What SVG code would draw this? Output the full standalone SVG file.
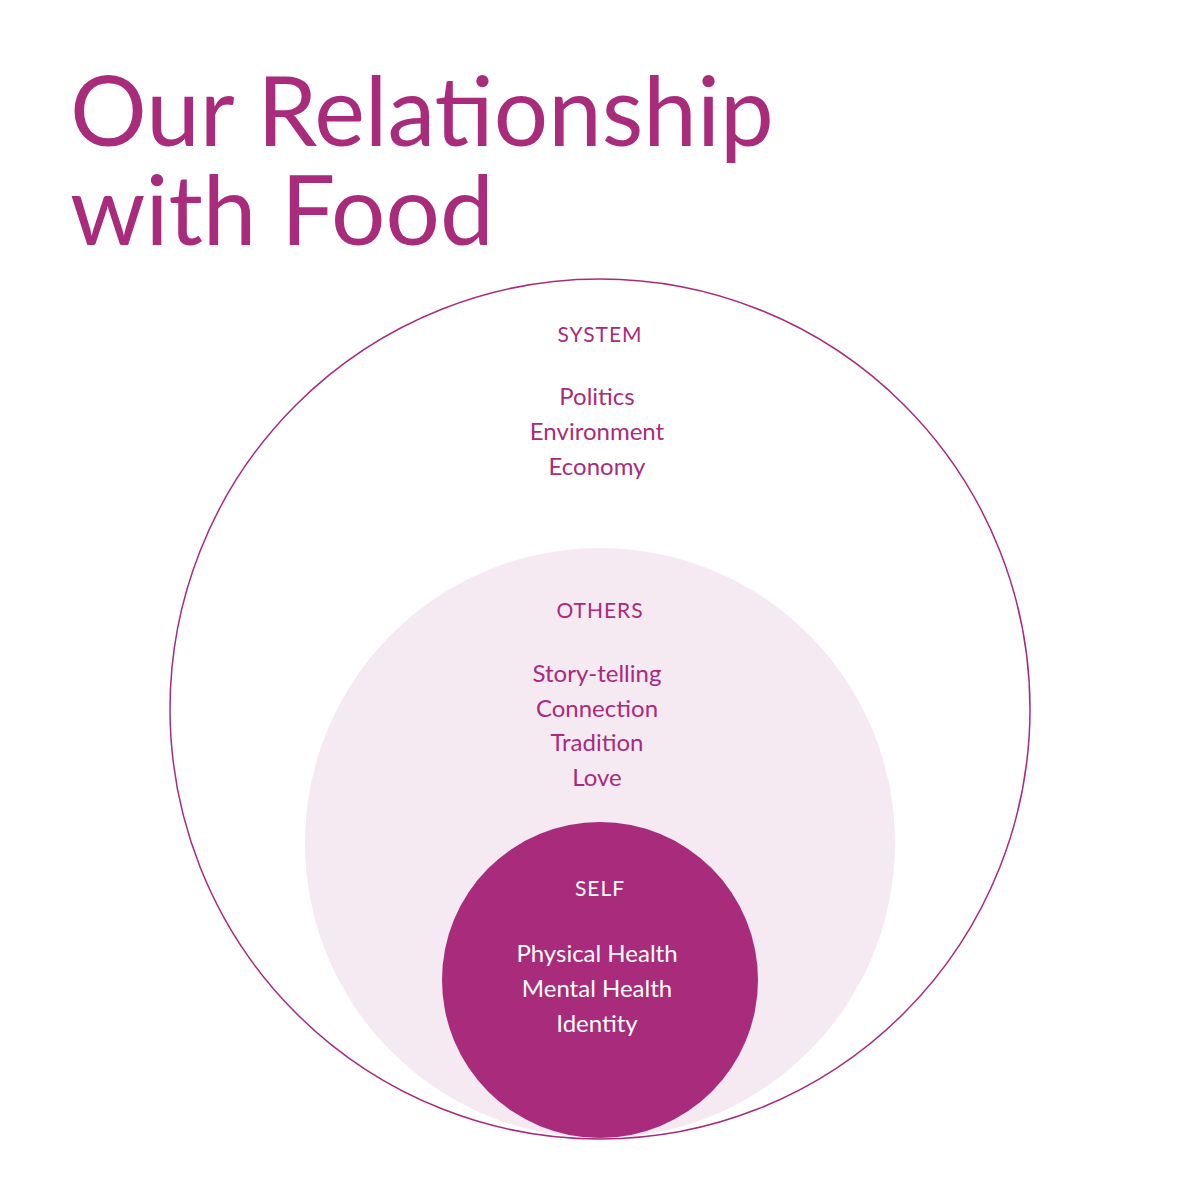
<svg xmlns="http://www.w3.org/2000/svg" width="1200" height="1200" viewBox="0 0 1200 1200">
<style>
text{font-family:"Lato","Liberation Sans",sans-serif;text-anchor:middle}
.h{font-size:21px;letter-spacing:1px}
.t{font-size:24px}
.m{fill:#a92b7b}
.w{fill:#ffffff}
</style>
<rect width="1200" height="1200" fill="#ffffff"/>
<g id="title"><text x="70" y="146" class="m" style="text-anchor:start;font-size:96px">Our Relationship</text>
<text x="70" y="245" class="m" style="text-anchor:start;font-size:96px">with Food</text></g>
<g id="system"><circle cx="600" cy="709" r="430" fill="#ffffff" stroke="#a92b7b" stroke-width="1.5"/>
<text x="600" y="342" class="m h">SYSTEM</text>
<text x="597" y="405" class="m t">Politics</text>
<text x="597" y="440" class="m t">Environment</text>
<text x="597" y="475" class="m t">Economy</text></g>
<g id="others"><circle cx="600" cy="843" r="295" fill="#f5e9f2"/>
<text x="600" y="618" class="m h">OTHERS</text>
<text x="597" y="682" class="m t">Story-telling</text>
<text x="597" y="717" class="m t">Connection</text>
<text x="597" y="751" class="m t">Tradition</text>
<text x="597" y="786" class="m t">Love</text></g>
<g id="self"><circle cx="600" cy="980" r="158" fill="#a92b7b"/>
<text x="600" y="896" class="w h">SELF</text>
<text x="597" y="962" class="w t">Physical Health</text>
<text x="597" y="997" class="w t">Mental Health</text>
<text x="597" y="1032" class="w t">Identity</text></g>
<g id="connectors"></g>
</svg>
